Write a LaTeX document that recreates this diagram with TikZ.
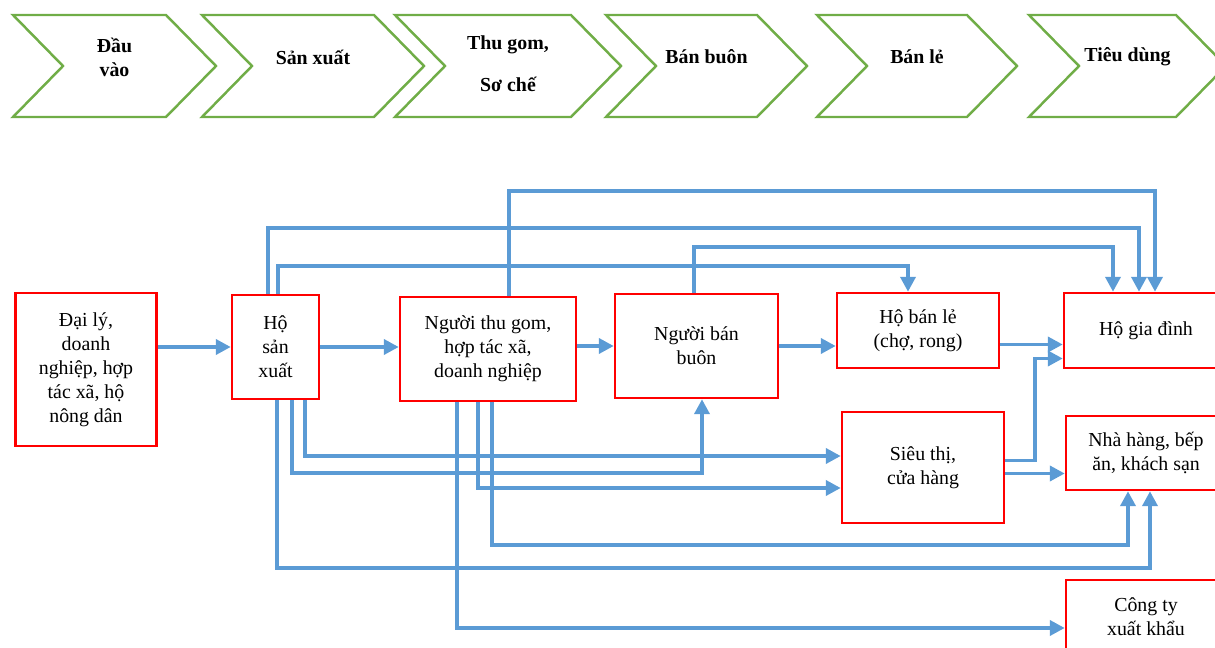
\documentclass[tikz,border=0pt]{standalone}
\usepackage{fontspec}
\setmainfont{Liberation Serif}
\usetikzlibrary{arrows.meta,calc}
\definecolor{flowblue}{HTML}{5B9BD5}
\definecolor{chevgreen}{HTML}{70AD47}
\begin{document}
\begin{tikzpicture}[
  x=0.02cm, y=-0.02cm,
  font=\fontsize{11.3}{13.7}\selectfont,
  box/.style={draw=red, line width=1.4pt, fill=white, align=center, inner sep=2pt},
  flow/.style={draw=flowblue, line width=2.2pt, -{Triangle[length=8.5pt,width=8.5pt]}},
  chev/.style={draw=chevgreen, line width=1.4pt},
  stage/.style={font=\fontsize{11.3}{13.7}\selectfont\bfseries, align=center},
]
  \clip (0,0) rectangle (1215,648);

  % ===================== value chain stages =====================
  \foreach \xl/\xr/\name in {13/166/s1, 202/374/s2, 395/571/s3, 606/757/s4, 817/967/s5, 1029/1176/s6}{
    \draw[chev] (\xl,15) -- (\xr,15) -- (\xr+50,66) -- (\xr,117) -- (\xl,117) -- (\xl+50,66) -- cycle;
    \coordinate (\name) at ({(\xl+\xr+50)/2},57);
  }
  \node[stage] (t1) at (s1) {Đầu\\vào};
  \node[stage] (t2) at (s2) {Sản xuất};
  \node[stage] (t3) at ($(s3)+(0,7)$) {Thu gom,\\[10pt]Sơ chế};
  \node[stage] (t4) at (s4) {Bán buôn};
  \node[stage] (t5) at (s5) {Bán lẻ};
  \node[stage] (t6) at (s6) {Tiêu dùng};

  % ===================== actors =====================
  \node[box, minimum width=2.82cm, minimum height=3.06cm] (dl) at (86,369.5) {Đại lý,\\doanh\\nghiệp, hợp\\tác xã, hộ\\nông dân};
  \node[box, minimum width=1.74cm, minimum height=2.08cm] (hsx) at (275.5,347) {Hộ\\sản\\xuất};
  \node[box, minimum width=3.52cm, minimum height=2.08cm] (tg) at (488,349) {Người thu gom,\\hợp tác xã,\\doanh nghiệp};
  \node[box, minimum width=3.26cm, minimum height=2.08cm] (bb) at (696.5,346) {Người bán\\buôn};
  \node[box, minimum width=3.24cm, minimum height=1.5cm] (bl) at (918,330.5) {Hộ bán lẻ\\(chợ, rong)};
  \node[box, minimum width=3.28cm, minimum height=1.5cm] (gd) at (1146,330.5) {Hộ gia đình};
  \node[box, minimum width=3.24cm, minimum height=2.22cm] (st) at (923,467.5) {Siêu thị,\\cửa hàng};
  \node[box, minimum width=3.2cm, minimum height=1.48cm] (nh) at (1146,453) {Nhà hàng, bếp\\ăn, khách sạn};
  \node[box, minimum width=3.2cm, minimum height=1.48cm] (xk) at (1146,617) {Công ty\\xuất khẩu};

  % ===================== main chain =====================
  \draw[flow] (dl.east |- hsx.west) -- (hsx.west);
  \draw[flow] (hsx.east) -- (hsx.east -| tg.west);
  \draw[flow] (tg.east |- bb.west) -- (bb.west);
  \draw[flow] (bb.east) -- (bb.east -| bl.west);
  \draw[flow] ($(bl.east)+(0,14)$) -- ($(gd.west)+(0,14)$);
  \draw[flow] ($(st.east)+(0,-7)$) -| ($(gd.west)+(-28,28)$) -- ($(gd.west)+(0,28)$);
  \draw[flow] ($(st.east)+(0,6)$) coordinate (st2) -- (st2 -| nh.west);

  % ===================== lanes above =====================
  \draw[flow] ($(tg.north)+(21,0)$) |- ($(gd.north)+(9,-101)$) -- ($(gd.north)+(9,0)$);
  \draw[flow] ($(hsx.north)+(-7.5,0)$) |- ($(gd.north)+(-7,-64)$) -- ($(gd.north)+(-7,0)$);
  \draw[flow] ($(bb.north)+(-2.5,0)$) |- ($(gd.north)+(-33,-45)$) -- ($(gd.north)+(-33,0)$);
  \draw[flow] ($(hsx.north)+(2.5,0)$) |- ($(bl.north)+(-10,-26)$) -- ($(bl.north)+(-10,0)$);

  % ===================== lanes below =====================
  \draw[flow] ($(hsx.south)+(29.5,0)$) |- ($(st.west)+(0,-11.5)$);
  \draw[flow] ($(hsx.south)+(16.5,0)$) |- ($(bb.south)+(5.5,74)$) -- ($(bb.south)+(5.5,0)$);
  \draw[flow] ($(hsx.south)+(1.5,0)$) |- ($(nh.south)+(4,77)$) -- ($(nh.south)+(4,0)$);
  \draw[flow] ($(tg.south)+(-10,0)$) |- ($(st.west)+(0,20.5)$);
  \draw[flow] ($(tg.south)+(4,0)$) |- ($(nh.south)+(-18,54)$) -- ($(nh.south)+(-18,0)$);
  \draw[flow] ($(tg.south)+(-31,0)$) |- ($(xk.west)+(0,11)$);
\end{tikzpicture}
\end{document}
